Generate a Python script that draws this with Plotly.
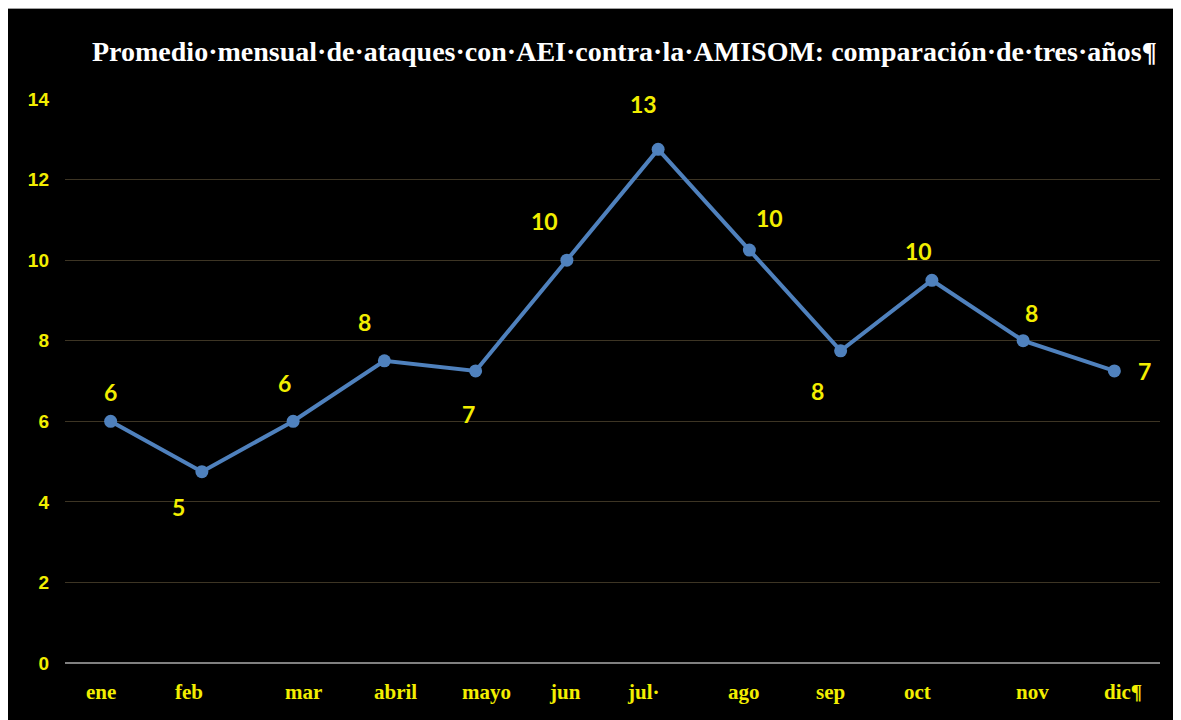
import plotly.graph_objects as go

months = ["ene", "feb", "mar", "abril", "mayo", "jun", "jul·", "ago", "sep", "oct", "nov", "dic¶"]
values = [6.0, 4.75, 6.0, 7.5, 7.25, 10.0, 12.75, 10.25, 7.75, 9.5, 8.0, 7.25]
labels = ["6", "5", "6", "8", "7", "10", "13", "10", "8", "10", "8", "7"]
y_ticks = [0, 2, 4, 6, 8, 10, 12, 14]
title_text = "Promedio·mensual·de·ataques·con·AEI·contra·la·AMISOM: comparación·de·tres·años¶"

# label offsets (style)
lab_dx = [0, -23, -9, -20, -7, -22, -15, 20, -23, -13, 8, 30]
lab_dy = [29, -35, 38, 39, -43, 39, 45, 32, -40, 29, 28, 0]
tick_dx = [-10, -13, 10, 11, 11, -2, -15, -5, -10, -14, 9, 9]

YEL = "#f2ee00"
OFF = 8  # page body margin
PL, PT, PR, PB = 65, 99, 1160, 663  # plot area in page pixels
W, H = 1181, 720
L, T = PL - OFF, PT - OFF
pw, ph = PR - PL, PB - PT
R, B = W - L - pw, H - T - ph

fig = go.Figure()
fig.add_trace(go.Scatter(
    x=list(range(len(months))), y=values, mode="lines+markers",
    line=dict(color="#4f81bd", width=4),
    marker=dict(color="#4f81bd", size=13),
    hoverinfo="skip", showlegend=False,
))

anns = []
for i, (v, t) in enumerate(zip(values, labels)):
    anns.append(dict(x=i, y=v, xref="x", yref="y", text=t, showarrow=False,
                     xshift=lab_dx[i], yshift=lab_dy[i],
                     font=dict(family="Lato, Liberation Sans, sans-serif", size=23, color=YEL,
                               weight="bold")))
for i, m in enumerate(months):
    anns.append(dict(x=i, y=0, xref="x", yref="y", text=m, showarrow=False,
                     xshift=tick_dx[i], yshift=-29,
                     font=dict(family="Liberation Serif, Times New Roman, serif", size=21, color=YEL,
                               weight="bold")))
anns.append(dict(x=(624 - PL) / pw, y=(PB - 51) / ph, xref="paper", yref="paper",
                 xanchor="center", yanchor="middle",
                 text=title_text, showarrow=False,
                 font=dict(family="Liberation Serif, Times New Roman, serif", size=28, color="white",
                           weight="bold")))

shapes = [dict(type="line", xref="paper", yref="paper",
               x0=(0 - PL) / pw, x1=(W + 20 - PL) / pw,
               y0=(PB - 8.5) / ph, y1=(PB - 8.5) / ph,
               line=dict(color="#a0a0a0", width=1))]

fig.update_layout(
    width=W, height=H,
    margin=dict(l=L, r=R, t=T, b=B),
    paper_bgcolor="black", plot_bgcolor="black",
    annotations=anns, shapes=shapes,
    xaxis=dict(range=[-0.5, 11.5], showticklabels=False, showgrid=False, zeroline=False,
               showline=False, fixedrange=True),
    yaxis=dict(range=[0, 14], tickvals=y_ticks, showgrid=True, gridcolor="#3d3524", gridwidth=1,
               zeroline=True, zerolinecolor="#808080", zerolinewidth=2,
               tickfont=dict(family="Liberation Sans, Arial, sans-serif", size=19, color=YEL,
                             weight="bold"),
               ticklabelstandoff=15, showline=False, fixedrange=True),
)
fig.write_html("out.html")
